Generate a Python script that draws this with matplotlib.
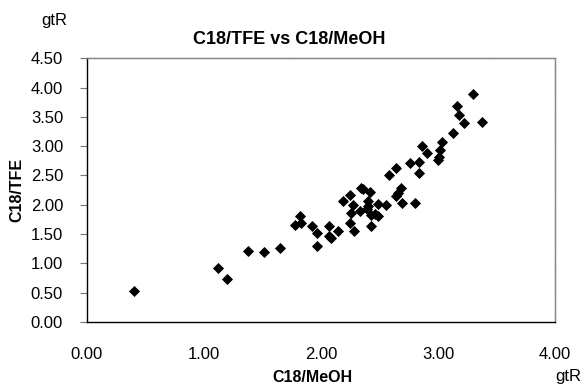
import matplotlib
matplotlib.use('Agg')
import matplotlib.pyplot as plt

plt.rcParams['font.family'] = ['Liberation Sans', 'DejaVu Sans']

# C18/MeOH (x) vs C18/TFE (y), gtR values
meoh = [0.40, 1.12, 1.20, 1.38, 1.51, 1.65, 1.78, 1.82, 1.83, 1.92,
        1.97, 1.97, 2.07, 2.07, 2.09, 2.15, 2.19, 2.25, 2.25, 2.28,
        2.27, 2.26, 2.33, 2.34, 2.36, 2.42, 2.40, 2.39, 2.43, 2.49,
        2.43, 2.49, 2.56, 2.58, 2.64, 2.64, 2.66, 2.68, 2.69, 2.80,
        2.76, 2.84, 2.84, 2.86, 2.91, 3.00, 3.01, 3.02, 3.03, 3.13,
        3.16, 3.18, 3.22, 3.38, 3.30, 2.40, 2.46]
tfe = [0.52, 0.92, 0.74, 1.21, 1.20, 1.26, 1.65, 1.80, 1.68, 1.64,
       1.51, 1.29, 1.63, 1.47, 1.43, 1.55, 2.07, 2.16, 1.69, 1.55,
       2.00, 1.86, 1.89, 2.29, 2.27, 2.21, 2.06, 1.92, 1.83, 1.80,
       1.63, 2.01, 1.99, 2.51, 2.63, 2.15, 2.20, 2.29, 2.03, 2.03,
       2.71, 2.73, 2.55, 3.00, 2.88, 2.77, 2.82, 2.93, 3.07, 3.23,
       3.69, 3.54, 3.40, 3.41, 3.89, 1.98, 1.84]

xticks = [0, 1, 2, 3, 4]
yticks = [0, 0.5, 1, 1.5, 2, 2.5, 3, 3.5, 4, 4.5]

fig = plt.figure(figsize=(5.84, 3.86), dpi=100)
ax = fig.add_axes([0.1485, 0.166, 0.802, 0.683])

ax.scatter(meoh, tfe, marker='D', s=32, color='black', linewidths=0)

ax.set_xlim(0, 4)
ax.set_ylim(0, 4.5)
ax.set_xticks(xticks)
ax.set_yticks(yticks)
ax.set_xticklabels(['%.2f' % v for v in xticks], fontsize=12)
ax.set_yticklabels(['%.2f' % v for v in yticks], fontsize=12)
ax.tick_params(direction='out', length=5, width=0.8, color='#777777', pad=12)
ax.tick_params(axis='x', pad=18, length=0)

for side in ['left', 'bottom']:
    ax.spines[side].set_color('black')
    ax.spines[side].set_linewidth(1.0)
for side in ['top', 'right']:
    ax.spines[side].set_color('#888888')
    ax.spines[side].set_linewidth(1.0)
    ax.spines[side].set_linestyle((0, (1, 0.5)))

# axis titles placed where the reference has them
fig.text(312 / 584, 1 - 377 / 386, 'C18/MeOH', fontsize=11.5,
         fontweight='bold', ha='center', va='center')
fig.text(17 / 584, 1 - 190 / 386, 'C18/TFE', fontsize=11.5,
         fontweight='bold', ha='center', va='center', rotation=90)

fig.text(289 / 584, 1 - 40 / 386, 'C18/TFE vs C18/MeOH', fontsize=13,
         fontweight='bold', ha='center', va='center')
fig.text(54 / 584, 1 - 20 / 386, 'gtR', fontsize=12, ha='center', va='center')
fig.text(568 / 584, 1 - 377 / 386, 'gtR', fontsize=12, ha='center', va='center')

fig.savefig('out.png', dpi=100)
